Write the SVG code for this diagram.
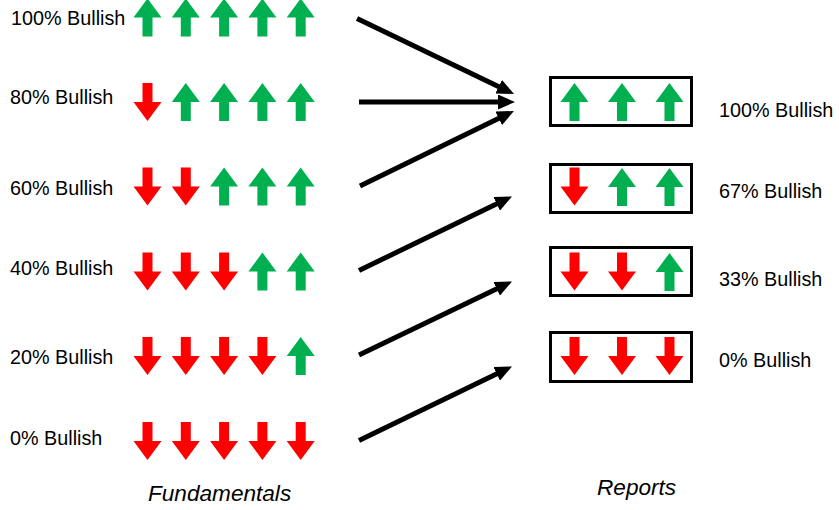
<svg xmlns="http://www.w3.org/2000/svg" xmlns:xlink="http://www.w3.org/1999/xlink" width="839" height="510" viewBox="0 0 839 510">
<style>
.lbl{font-family:"Liberation Sans",Arial,sans-serif;font-size:19.8px;fill:#000}
.cap{font-family:"Liberation Sans",Arial,sans-serif;font-size:22.6px;font-style:italic;fill:#000}
.up{fill:#00B050}
.dn{fill:#FF0000}
.box{fill:#fff;stroke:#000;stroke-width:3}
.conn{stroke:#000;stroke-width:5;fill:none;marker-end:url(#ah)}
</style>
<defs>
<path id="up" class="up" d="M0,0 L14,19 L5,19 L5,38 L-5,38 L-5,19 L-14,19 Z"/>
<path id="dn" class="dn" d="M-5,0 L5,0 L5,19 L14,19 L0,38 L-14,19 L-5,19 Z"/>
<marker id="ah" markerUnits="userSpaceOnUse" viewBox="0 0 17 15" refX="10" refY="7.5" markerWidth="17" markerHeight="15" orient="auto">
<path d="M0,0 L17,7.5 L0,15 Z" fill="#000"/>
</marker>
</defs>
<rect width="839" height="510" fill="#fff"/>

<g id="f100">
<text class="lbl" x="11" y="25">100% Bullish</text>
<use href="#up" x="147.5" y="-1.5"/><use href="#up" x="185.8" y="-1.5"/><use href="#up" x="224.1" y="-1.5"/><use href="#up" x="262.4" y="-1.5"/><use href="#up" x="300.7" y="-1.5"/>
</g>
<g id="f80">
<text class="lbl" x="10" y="104">80% Bullish</text>
<use href="#dn" x="147.5" y="83"/><use href="#up" x="185.8" y="83"/><use href="#up" x="224.1" y="83"/><use href="#up" x="262.4" y="83"/><use href="#up" x="300.7" y="83"/>
</g>
<g id="f60">
<text class="lbl" x="10" y="195">60% Bullish</text>
<use href="#dn" x="147.5" y="167.5"/><use href="#dn" x="185.8" y="167.5"/><use href="#up" x="224.1" y="167.5"/><use href="#up" x="262.4" y="167.5"/><use href="#up" x="300.7" y="167.5"/>
</g>
<g id="f40">
<text class="lbl" x="10" y="275">40% Bullish</text>
<use href="#dn" x="147.5" y="252.5"/><use href="#dn" x="185.8" y="252.5"/><use href="#dn" x="224.1" y="252.5"/><use href="#up" x="262.4" y="252.5"/><use href="#up" x="300.7" y="252.5"/>
</g>
<g id="f20">
<text class="lbl" x="10" y="364">20% Bullish</text>
<use href="#dn" x="147.5" y="337"/><use href="#dn" x="185.8" y="337"/><use href="#dn" x="224.1" y="337"/><use href="#dn" x="262.4" y="337"/><use href="#up" x="300.7" y="337"/>
</g>
<g id="f0">
<text class="lbl" x="10" y="445">0% Bullish</text>
<use href="#dn" x="147.5" y="422"/><use href="#dn" x="185.8" y="422"/><use href="#dn" x="224.1" y="422"/><use href="#dn" x="262.4" y="422"/><use href="#dn" x="300.7" y="422"/>
</g>

<g id="connectors">
<line class="conn" x1="357" y1="18.5" x2="507.7" y2="91"/>
<line class="conn" x1="359" y1="102" x2="508" y2="102"/>
<line class="conn" x1="360" y1="186" x2="507.7" y2="114"/>
<line class="conn" x1="359" y1="270.5" x2="505.7" y2="199.5"/>
<line class="conn" x1="359" y1="355" x2="505.7" y2="284.5"/>
<line class="conn" x1="359" y1="440.5" x2="505.7" y2="369.5"/>
</g>

<g id="r100">
<rect class="box" x="550.5" y="77.5" width="141" height="48"/>
<use href="#up" x="574.5" y="83"/><use href="#up" x="622" y="83"/><use href="#up" x="669.5" y="83"/>
<text class="lbl" x="719" y="117">100% Bullish</text>
</g>
<g id="r67">
<rect class="box" x="550.5" y="164.5" width="141" height="48"/>
<use href="#dn" x="574.5" y="167.5"/><use href="#up" x="622" y="168"/><use href="#up" x="669.5" y="168"/>
<text class="lbl" x="719" y="198">67% Bullish</text>
</g>
<g id="r33">
<rect class="box" x="550.5" y="247.5" width="141" height="48"/>
<use href="#dn" x="574.5" y="252.5"/><use href="#dn" x="622" y="252.5"/><use href="#up" x="669.5" y="253"/>
<text class="lbl" x="719" y="286">33% Bullish</text>
</g>
<g id="r0">
<rect class="box" x="550.5" y="332.5" width="141" height="49"/>
<use href="#dn" x="574.5" y="337"/><use href="#dn" x="622" y="337"/><use href="#dn" x="669.5" y="337"/>
<text class="lbl" x="719" y="367">0% Bullish</text>
</g>

<g id="captions">
<text class="cap" x="148" y="501">Fundamentals</text>
<text class="cap" x="597" y="495">Reports</text>
</g>
</svg>
